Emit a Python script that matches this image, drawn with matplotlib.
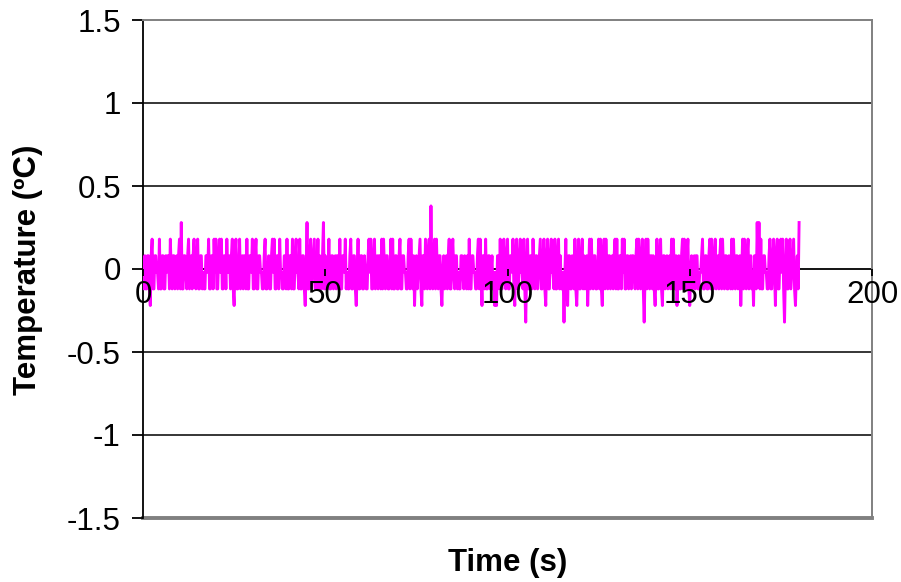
import numpy as np
import matplotlib
matplotlib.use("Agg")
import matplotlib.pyplot as plt

# Quantised temperature levels of the sensor (deg C), indexed by code digit
levels = [-0.32, -0.22, -0.12, -0.02, 0.08, 0.18, 0.28, 0.38]

# Recorded level codes, one sample every 0.25 s, one string per 10 s block
segments = [
    "3242244214522443325224422434425324423424",
    "5262244324523424532452244232244352244253",
    "5224535224425334245214522352342442522443",
    "5224522443322452234224535224425332244252",
    "2442522453325224421362245234522352422462",
    "4223522442342442522443523224522442135224",
    "4224322453522452342442525324422352522442",
    "2452244332245253241342345214425324527324",
    "5253244213423424522453244232244324324252",
    "2443322452531442522442342313144252245324",
    "5224435214522453325203522442532442345224",
    "5214522453325224524223035214422432521352",
    "2452423413525324422352521452532442342452",
    "5224425352244234244324525324520352532442",
    "4213522452144234234252532413422452532452",
    "1342342442233452244224525324523424525324",
    "4224325253244234135253245234231442636252",
    "2443322452245314522453520352245234521342",
    "6",
]
sample_period = 0.25  # s

x_ticks = [0, 50, 100, 150, 200]
y_ticks = [-1.5, -1.0, -0.5, 0.0, 0.5, 1.0, 1.5]
y_tick_labels = ["-1.5", "-1", "-0.5", "0", "0.5", "1", "1.5"]
grid_values = [-1.0, -0.5, 0.5, 1.0]

codes = "".join(segments)
temperature = np.array([levels[int(c)] for c in codes])
time = np.arange(len(temperature)) * sample_period

plt.rcParams["font.family"] = ["Liberation Sans", "DejaVu Sans"]

W, H = 901, 582
fig = plt.figure(figsize=(W / 100, H / 100), dpi=100)
fig.patch.set_facecolor("white")
ax = fig.add_axes([143 / W, 1 - 518 / H, (872 - 143) / W, (518 - 20) / H])

ax.set_xlim(0, 200)
ax.set_ylim(-1.5, 1.5)

# horizontal gridlines
for g in grid_values:
    ax.axhline(g, color="black", lw=1.1, zorder=1)

# frame: gray top, right and bottom; black y axis; x axis at zero
gray = "#808080"
ax.spines["top"].set_color(gray)
ax.spines["right"].set_color(gray)
ax.spines["top"].set_linewidth(1.4)
ax.spines["right"].set_linewidth(1.4)
ax.spines["left"].set_color("black")
ax.spines["left"].set_linewidth(1.3)
ax.spines["bottom"].set_position(("data", 0))
ax.spines["bottom"].set_color("black")
ax.spines["bottom"].set_linewidth(1.3)
ax.spines["bottom"].set_zorder(2)
ax.axhline(-1.5, color=gray, lw=2.8, clip_on=False, zorder=1)

ax.plot(time, temperature, color="#FF00FF", lw=2.1, zorder=3)

ax.set_xticks(x_ticks)
ax.set_xticklabels([str(v) for v in x_ticks])
ax.set_yticks(y_ticks)
ax.set_yticklabels(y_tick_labels)
ax.tick_params(axis="x", direction="out", length=5, width=1.3, pad=3,
               labelsize=22.5, colors="black")
ax.tick_params(axis="y", direction="out", length=8, width=1.3, pad=8,
               labelsize=22.5, colors="black")
# x tick labels sit on top of the trace
ax.xaxis.set_zorder(4)

fig.text(507.5 / W, 1 - 563 / H, "Time (s)", ha="center", va="center",
         fontsize=22.5, fontweight="bold")
fig.text(28 / W, 1 - 270 / H, "Temperature (ºC)", ha="center", va="center",
         rotation=90, fontsize=22.5, fontweight="bold")

fig.savefig("out.png", dpi=100)
